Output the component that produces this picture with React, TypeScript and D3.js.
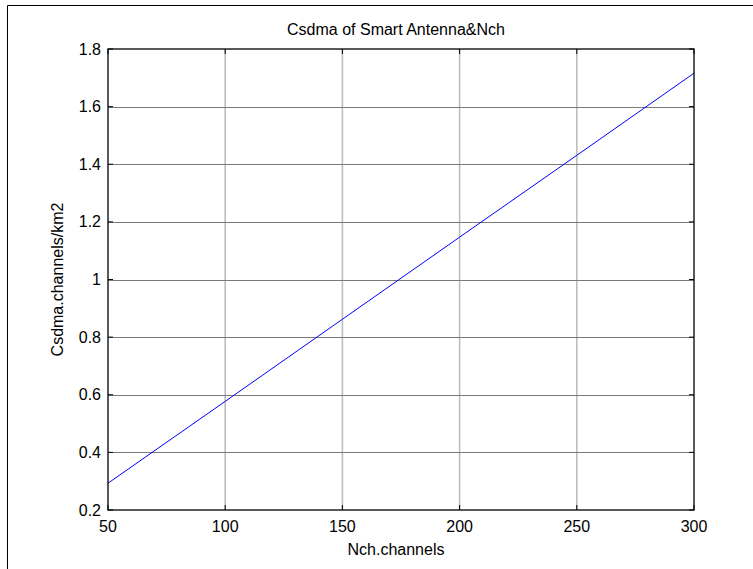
import React from "react";
import * as d3 from "d3";

// Capacity of a smart-antenna CDMA cell versus number of channels
const nch = [50, 100, 150, 200, 250, 300];
const csdma = [0.293, 0.577, 0.862, 1.147, 1.431, 1.716];

const xTicks = [50, 100, 150, 200, 250, 300];
const yTicks = [0.2, 0.4, 0.6, 0.8, 1, 1.2, 1.4, 1.6, 1.8];

const W = 753;
const H = 569;
const left = 108;
const right = 694;
const top = 49;
const bottom = 510;
const font = "'Liberation Sans', Arial, sans-serif";

export default function App() {
  const x = d3.scaleLinear().domain([50, 300]).range([left, right]);
  const y = d3.scaleLinear().domain([0.2, 1.8]).range([bottom, top]);
  const line = d3
    .line<number>()
    .x((_, i) => x(nch[i]))
    .y((d) => y(d));
  const tick = 5;
  const cx = (left + right) / 2 - 5;

  return (
    <svg
      width={W}
      height={H}
      style={{ position: "absolute", left: 0, top: 0, background: "#fff" }}
    >
      <rect x={0} y={0} width={W} height={H} fill="#fff" />
      {/* outer frame */}
      <line x1={7.5} y1={5.5} x2={W} y2={5.5} stroke="#000" strokeWidth={1} />
      <line x1={7.5} y1={5.5} x2={7.5} y2={H} stroke="#000" strokeWidth={1} />

      {/* grid */}
      {xTicks.slice(1, -1).map((t) => (
        <line
          key={"gx" + t}
          x1={x(t)}
          x2={x(t)}
          y1={top}
          y2={bottom}
          stroke="#bdbdbd"
          strokeWidth={1.6}
        />
      ))}
      {yTicks.slice(1, -1).map((t) => (
        <line
          key={"gy" + t}
          x1={left}
          x2={right}
          y1={Math.round(y(t)) + 0.5}
          y2={Math.round(y(t)) + 0.5}
          stroke="#7a7a7a"
          strokeWidth={1}
        />
      ))}

      {/* data */}
      <path d={line(csdma) ?? ""} fill="none" stroke="#0000ff" strokeWidth={1} />

      {/* ticks */}
      {xTicks.map((t) => (
        <g key={"tx" + t}>
          <line x1={x(t)} x2={x(t)} y1={bottom} y2={bottom - tick} stroke="#000" />
          <line x1={x(t)} x2={x(t)} y1={top} y2={top + tick} stroke="#000" />
        </g>
      ))}
      {yTicks.map((t) => (
        <g key={"ty" + t}>
          <line x1={left} x2={left + tick} y1={y(t)} y2={y(t)} stroke="#000" />
          <line x1={right} x2={right - tick} y1={y(t)} y2={y(t)} stroke="#000" />
        </g>
      ))}

      {/* axes box */}
      <rect
        x={left}
        y={top}
        width={right - left}
        height={bottom - top}
        fill="none"
        stroke="#000"
        strokeWidth={1.3}
      />

      {/* tick labels */}
      {xTicks.map((t) => (
        <text
          key={"lx" + t}
          x={x(t)}
          y={532}
          textAnchor="middle"
          fontFamily={font}
          fontSize={16}
          fill="#000"
        >
          {t}
        </text>
      ))}
      {yTicks.map((t) => (
        <text
          key={"ly" + t}
          x={101}
          y={y(t)}
          dy="0.35em"
          textAnchor="end"
          fontFamily={font}
          fontSize={16}
          fill="#000"
        >
          {d3.format("")(t)}
        </text>
      ))}

      {/* labels */}
      <text x={cx} y={35} textAnchor="middle" fontFamily={font} fontSize={16} fill="#000">
        Csdma of Smart Antenna&amp;Nch
      </text>
      <text x={cx} y={555} textAnchor="middle" fontFamily={font} fontSize={16} fill="#000">
        Nch.channels
      </text>
      <text
        transform={`translate(63, ${(top + bottom) / 2}) rotate(-90)`}
        textAnchor="middle"
        fontFamily={font}
        fontSize={16}
        fill="#000"
      >
        Csdma.channels/km2
      </text>
    </svg>
  );
}
